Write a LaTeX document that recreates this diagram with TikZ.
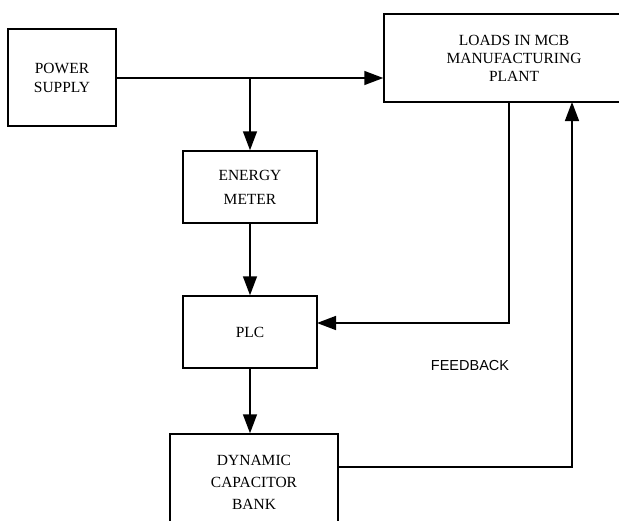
\documentclass[tikz,border=0pt]{standalone}
\usepackage{fontspec}
\setmainfont{Liberation Serif}
\newfontfamily\fbfont{Liberation Sans}
\usetikzlibrary{arrows.meta}

\begin{document}
\begin{tikzpicture}[x=1pt, y=-1pt, line width=1.5pt,
	blockbox/.style={draw=black, rectangle, align=center, font=\fontsize{15.5}{19}\selectfont, inner sep=0pt},
	flow/.style={-{Triangle[length=19pt, width=14pt]}}]
			\useasboundingbox (0,0) rectangle (619,520);

			\node (power) at (62,77.5) [blockbox, minimum width=108pt, minimum height=97pt] {POWER\\SUPPLY};
			\node (loads) at (514,58) [blockbox, minimum width=260pt, minimum height=88pt, font=\fontsize{15.5}{18}\selectfont] {LOADS IN MCB\\MANUFACTURING\\PLANT};
			\node (meter) at (250,187) [blockbox, minimum width=134pt, minimum height=72pt, font=\fontsize{15.5}{24}\selectfont] {ENERGY\\METER};
			\node (plc) at (250,332) [blockbox, minimum width=134pt, minimum height=72pt] {PLC};
			\node (bank) at (254,482) [blockbox, minimum width=168pt, minimum height=96pt, font=\fontsize{15.5}{22}\selectfont] {DYNAMIC\\CAPACITOR\\BANK};
			\node (fb) at (470,366) [font=\fbfont\fontsize{14.5}{16}\selectfont] {FEEDBACK};

			\coordinate (split) at (250,78);
			\coordinate (fbtop) at (509,102);
			\coordinate (fbin) at (317,323);
			\coordinate (upin) at (572,102);

			\draw[flow] (power.east |- split) -- (split -| loads.west);
			\draw[flow] (split) -- (meter.north);
			\draw[flow] (meter.south) -- (plc.north);
			\draw[flow] (plc.south) -- (plc.south |- bank.north);
			\draw[flow] (fbtop) |- (fbin);
			\draw[flow] (bank.east |- 0,467) -| (upin);
		\end{tikzpicture}
\end{document}
